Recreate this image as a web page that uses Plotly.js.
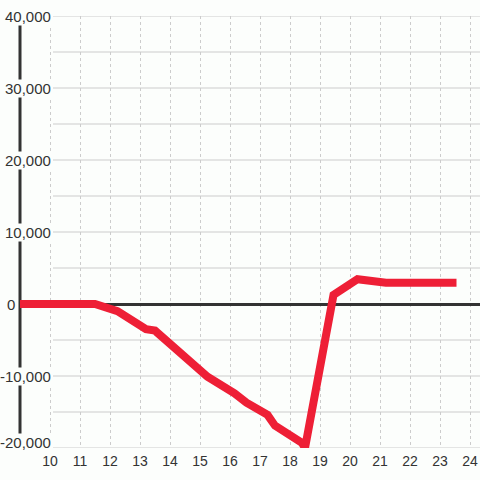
<!DOCTYPE html>
<html>
<head>
<meta charset="utf-8">
<script src="https://cdn.plot.ly/plotly-3.0.1.min.js"></script>
<style>html,body{margin:0;padding:0;background:#fcfefc;}#chart{width:480px;height:480px;}</style>
</head>
<body>
<div id="chart"></div>
<script>
// Data
const hours = [9, 11.5, 12.25, 13.2, 13.5, 15.25, 16.15, 16.55, 17.25, 17.5, 18.4, 18.5, 19.45, 20.25, 21.2, 23.55];
const values = [0, 0, -1000, -3500, -3700, -10100, -12400, -13700, -15400, -16900, -19300, -20000, 1250, 3450, 2950, 2950];

const xTickVals = [10, 11, 12, 13, 14, 15, 16, 17, 18, 19, 20, 21, 22, 23, 24];
const xTickText = ['10', '11', '12', '13', '14', '15', '16', '17', '18', '19', '20', '21', '22', '23', '24'];
const yLabelVals = [40000, 30000, 20000, 10000, 0, -10000, -20000];
const yLabelText = ['40,000', '30,000', '20,000', '10,000', '0', '-10,000', '-20,000'];
const yGridVals = [40000, 35000, 30000, 25000, 20000, 15000, 10000, 5000, -5000, -10000, -15000, -20000];

const BG = '#fcfefc';
const W = 480, L = 20, R = 0;
const plotW = W - L - R;
const labelRight = (52 - L) / plotW;
const zeroLabelRight = (15.5 - L) / plotW;
const gridStart = (53 - L) / plotW;

const shapes = [];
yGridVals.forEach(v => {
  shapes.push({type: 'line', xref: 'paper', yref: 'y', x0: gridStart, x1: 1, y0: v, y1: v,
    line: {color: '#cccccc', width: 1}, layer: 'below'});
});
// y axis bar
shapes.push({type: 'line', xref: 'paper', yref: 'paper', x0: 0, x1: 0, y0: 0, y1: 1,
  line: {color: '#333333', width: 3}, layer: 'below'});

const annotations = yLabelVals.map((v, i) => ({
  xref: 'paper', yref: 'y', x: v === 0 ? zeroLabelRight : labelRight, y: v,
  xanchor: 'right', yanchor: 'middle', showarrow: false,
  text: yLabelText[i], font: {family: 'Liberation Sans, Arial, sans-serif', size: 15, color: '#333333'},
  bgcolor: BG, borderpad: 0,
  yshift: v === -20000 ? 6 : 0
}));

const trace = {
  x: hours, y: values, type: 'scatter', mode: 'lines',
  line: {color: '#ee1f36', width: 8},
  hoverinfo: 'skip'
};

const layout = {
  width: 480, height: 480,
  margin: {l: L, r: R, t: 16, b: 32, pad: 0},
  paper_bgcolor: BG, plot_bgcolor: BG,
  showlegend: false,
  xaxis: {
    range: [9, 9 + plotW / 30],
    tickvals: xTickVals, ticktext: xTickText,
    showgrid: true, gridcolor: '#cccccc', gridwidth: 1, griddash: '3px,3px',
    zeroline: false, showline: false, ticks: '', ticklabelstandoff: 3,
    tickfont: {family: 'Liberation Sans, Arial, sans-serif', size: 14, color: '#333333'},
    fixedrange: true
  },
  yaxis: {
    range: [-20000, 40000],
    showgrid: false, showticklabels: false, ticks: '',
    zeroline: true, zerolinecolor: '#333333', zerolinewidth: 3,
    showline: false, fixedrange: true
  },
  shapes: shapes,
  annotations: annotations
};

Plotly.newPlot('chart', [trace], layout, {staticPlot: true, displayModeBar: false});
</script>
</body>
</html>
